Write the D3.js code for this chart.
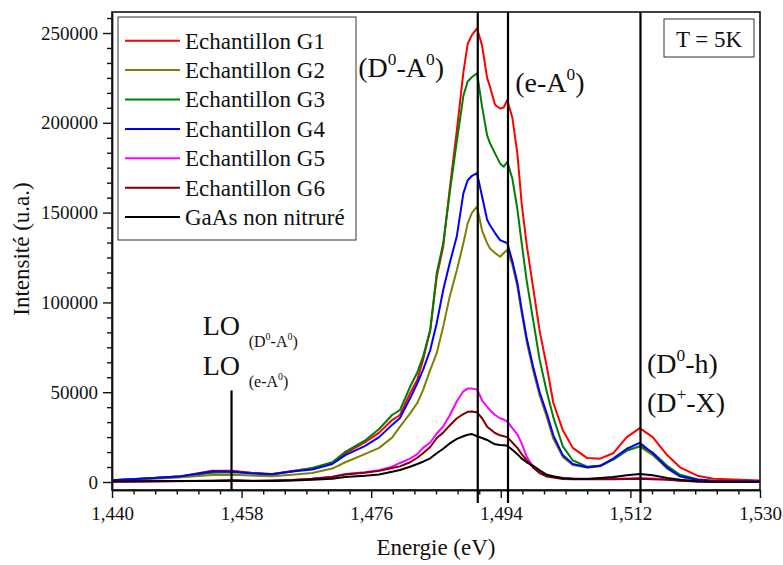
<!DOCTYPE html>
<html>
<head>
<meta charset="utf-8">
<script src="https://cdn.jsdelivr.net/npm/d3@7"></script>
<style>
  body { margin: 0; background: #fff; }
  svg, svg text, svg tspan { font-family: 'Liberation Serif', serif; }
</style>
</head>
<body>
<div id="chart"></div>
<script>
// photon energy (eV)
const energies = [1.4400, 1.4446, 1.4492, 1.4539, 1.4567, 1.4594, 1.4622, 1.4650, 1.4678, 1.4706,
  1.4724, 1.4751, 1.4771, 1.4789, 1.4800, 1.4814, 1.4824, 1.4832, 1.4842, 1.4851,
  1.4860, 1.4869, 1.4879, 1.4888, 1.4894, 1.4900, 1.4907, 1.4914, 1.4921, 1.4925,
  1.4932, 1.4939, 1.4944, 1.4949, 1.4956, 1.4963, 1.4969, 1.4976, 1.4985, 1.4994,
  1.5004, 1.5013, 1.5026, 1.5040, 1.5060, 1.5078, 1.5096, 1.5115, 1.5133, 1.5151,
  1.5171, 1.5189, 1.5213, 1.5235, 1.5272, 1.5300];

// PL intensity (u.a.) for each sample
const g1 = [1000, 2000, 3000, 6300, 6300, 5200, 4500, 6100, 7600, 10400,
  16000, 22000, 27500, 34500, 37300, 49400, 57000, 67900, 84600, 114300,
  131000, 163000, 196000, 228000, 244000, 249000, 252600, 243000, 225000, 220000,
  210000, 208000, 208500, 212700, 203000, 183000, 155000, 132000, 108000, 84000,
  64000, 44000, 29000, 19000, 13300, 13000, 16000, 25000, 30000, 25000,
  15000, 8200, 3500, 1800, 1200, 900];
const g2 = [800, 1500, 2500, 3900, 4000, 3600, 3200, 4000, 5000, 7500,
  11000, 15500, 19000, 24700, 30800, 38200, 44000, 51200, 62400, 71700,
  86500, 103200, 118000, 133000, 144000, 150000, 153300, 140000, 133000, 130000,
  127500, 125400, 127500, 129200, 121000, 109000, 94000, 78000, 62000, 48000,
  36000, 24000, 14000, 9500, 8000, 8800, 12500, 17500, 19700, 15000,
  7500, 3000, 1000, 400, 300, 300];
const g3 = [1000, 2000, 3000, 5200, 5500, 5000, 4200, 5800, 7800, 11000,
  16800, 23000, 29500, 37300, 40100, 53000, 61000, 69800, 84600, 116200,
  132900, 161000, 190000, 215000, 223000, 225500, 227600, 209000, 193000, 188600,
  183000, 177400, 175500, 178300, 169000, 152000, 133000, 112000, 90000, 68000,
  50000, 36000, 20000, 12000, 8500, 9000, 12500, 17500, 20000, 16500,
  9000, 4000, 1500, 700, 500, 500];
const g4 = [1000, 2000, 3000, 5800, 5800, 4800, 4300, 5800, 7000, 10000,
  15000, 20000, 25000, 31800, 35600, 46600, 55000, 62400, 73500, 88400,
  106900, 121800, 137000, 160700, 168000, 170500, 172000, 159000, 146000, 143000,
  138600, 134700, 133800, 133000, 123000, 111000, 96000, 80000, 64000, 50000,
  38000, 26000, 15000, 10000, 8200, 9000, 13000, 18500, 21800, 16000,
  8000, 3200, 1200, 500, 400, 400];
const g5 = [200, 300, 400, 700, 800, 600, 700, 1000, 1800, 3000,
  4500, 5500, 6500, 8500, 10600, 13000, 15500, 19000, 22000, 27000,
  31000, 37000, 45000, 50500, 52000, 52000, 51500, 45500, 41900, 40000,
  37300, 35500, 34800, 33600, 30000, 26500, 21500, 14000, 8500, 5000,
  3500, 2800, 2000, 2000, 1800, 1800, 1900, 2000, 2200, 2000,
  1500, 800, 300, 200, 200, 200];
const g6 = [300, 400, 500, 700, 900, 700, 800, 1100, 1800, 2800,
  4200, 5200, 6200, 7800, 8700, 11000, 13500, 16000, 19500, 24500,
  27500, 31500, 35500, 37800, 39100, 39200, 38800, 35500, 30800, 29500,
  27300, 26000, 25500, 25000, 22000, 19000, 15500, 12000, 8000, 5000,
  3000, 2500, 1700, 1500, 1500, 1500, 1600, 1700, 1800, 1600,
  1200, 700, 300, 200, 200, 200];
const gaas = [300, 400, 500, 600, 800, 600, 500, 800, 1300, 1800,
  2800, 3500, 4200, 5700, 6700, 8500, 10000, 11300, 13200, 16000,
  18500, 21500, 24000, 25500, 26300, 26700, 25500, 24500, 23400, 22500,
  21000, 20600, 20500, 20200, 18000, 15500, 13000, 11000, 9000, 6500,
  4000, 3200, 2200, 1800, 1700, 2200, 2800, 3700, 4500, 3800,
  2300, 1200, 400, 200, 200, 200];

const seriesLabels = ['Echantillon G1', 'Echantillon G2', 'Echantillon G3', 'Echantillon G4',
  'Echantillon G5', 'Echantillon G6', 'GaAs non nitruré'];
const seriesValues = [g1, g2, g3, g4, g5, g6, gaas];
const seriesColors = ['#ff0000', '#808000', '#008000', '#0000ff', '#ff00ff', '#800000', '#000000'];

const xTicks = [1.440, 1.458, 1.476, 1.494, 1.512, 1.530];
const yTicks = [0, 50000, 100000, 150000, 200000, 250000];

// transition energies marked by vertical lines, and how high each line goes
const markerEnergies = [1.4566, 1.4908, 1.4950, 1.5134];
const markerTops = [51000, 261700, 261700, 261700];

const FONT = 'Liberation Serif';

class SpectrumChart {
  constructor(_config) {
    this.config = {
      parentElement: _config.parentElement,
      containerWidth: 783,
      containerHeight: 565,
      margin: { top: 12, right: 23, bottom: 75, left: 112 }
    };
    this.initVis();
  }

  initVis() {
    let vis = this;
    const m = vis.config.margin;
    vis.width = vis.config.containerWidth - m.left - m.right;
    vis.height = vis.config.containerHeight - m.top - m.bottom;

    vis.xScale = d3.scaleLinear().domain([1.44, 1.53]).range([0, vis.width]);
    vis.yScale = d3.scaleLinear().domain([-4450, 261700]).range([vis.height, 0]);

    vis.svg = d3.select(vis.config.parentElement).append('svg')
      .attr('width', vis.config.containerWidth)
      .attr('height', vis.config.containerHeight)
      .style('font-family', FONT);

    vis.chart = vis.svg.append('g')
      .attr('transform', `translate(${m.left},${m.top})`);
  }

  // put the string inside a tspan that carries the font itself
  setText(sel, size, str) {
    sel.attr('font-family', FONT).attr('font-size', size).attr('fill', '#111')
      .style('font-family', FONT);
    sel.each(function (d, i) {
      const s = typeof str === 'function' ? str(d, i) : str;
      d3.select(this).text(null).append('tspan')
        .attr('font-family', FONT).attr('font-size', size)
        .style('font-family', FONT)
        .text(s);
    });
    return sel;
  }

  renderVis() {
    let vis = this;
    const x = vis.xScale, y = vis.yScale;
    const fmtX = d => d3.format('.3f')(d).replace('.', ',');

    // minor ticks (5 between majors)
    const minorX = d3.range(0, 31).map(i => 1.44 + i * 0.003).filter((d, i) => i % 6 !== 0);
    const minorY = d3.range(0, 32).map(i => i * 50000 / 6).filter((d, i) => i % 6 !== 0 && d < 261700);

    vis.chart.append('g').attr('class', 'axis')
      .attr('transform', `translate(0,${vis.height})`)
      .call(d3.axisBottom(x).tickValues(minorX).tickSize(4.5).tickSizeOuter(0).tickFormat(''));
    vis.chart.append('g').attr('class', 'axis')
      .call(d3.axisLeft(y).tickValues(minorY).tickSize(5).tickSizeOuter(0).tickFormat(''));

    const xAxisG = vis.chart.append('g').attr('class', 'axis')
      .attr('transform', `translate(0,${vis.height})`)
      .call(d3.axisBottom(x).tickValues(xTicks).tickSize(8).tickSizeOuter(0).tickPadding(9).tickFormat(fmtX));
    const yAxisG = vis.chart.append('g').attr('class', 'axis')
      .call(d3.axisLeft(y).tickValues(yTicks).tickSize(9).tickSizeOuter(0).tickPadding(5).tickFormat(d3.format('d')));

    vis.svg.selectAll('.axis').attr('font-family', FONT);
    vis.setText(xAxisG.selectAll('text'), 19, d => fmtX(d));
    vis.setText(yAxisG.selectAll('text'), 19, d => d3.format('d')(d));
    vis.svg.selectAll('.axis line, .axis path').attr('stroke', '#111').attr('stroke-width', 1.4);

    // frame
    vis.chart.append('rect')
      .attr('width', vis.width).attr('height', vis.height)
      .attr('fill', 'none').attr('stroke', '#111').attr('stroke-width', 1.6);

    // spectra
    const line = d3.line()
      .x((d, i) => x(energies[i]))
      .y(d => y(d));
    vis.chart.selectAll('.spectrum')
      .data(seriesValues)
      .join('path')
      .attr('class', 'spectrum')
      .attr('fill', 'none')
      .attr('stroke', (d, i) => seriesColors[i])
      .attr('stroke-width', 2)
      .attr('stroke-linejoin', 'round')
      .attr('d', line);

    // vertical markers
    vis.chart.selectAll('.marker')
      .data(markerEnergies)
      .join('line')
      .attr('class', 'marker')
      .attr('x1', d => x(d)).attr('x2', d => x(d))
      .attr('y1', (d, i) => y(markerTops[i]))
      .attr('y2', (d, i) => i === 0 ? vis.height : vis.height + 13)
      .attr('stroke', '#000').attr('stroke-width', 2.2);

    // legend
    const lg = vis.chart.append('g').attr('transform', 'translate(6,5)');
    lg.append('rect').attr('width', 238).attr('height', 223)
      .attr('fill', '#fff').attr('stroke', '#333').attr('stroke-width', 1);
    const rows = lg.selectAll('.lrow').data(seriesLabels).join('g')
      .attr('class', 'lrow')
      .attr('transform', (d, i) => `translate(0,${23.7 + i * 29.4})`);
    rows.append('line').attr('x1', 7).attr('x2', 62)
      .attr('stroke', (d, i) => seriesColors[i]).attr('stroke-width', 2);
    vis.setText(rows.append('text'), 23, d => d).attr('x', 67).attr('dy', '0.34em');

    // temperature box
    const tb = vis.chart.append('g').attr('transform', `translate(${vis.width - 96},7)`);
    tb.append('rect').attr('width', 90).attr('height', 38)
      .attr('fill', '#fff').attr('stroke', '#333').attr('stroke-width', 1);
    vis.setText(tb.append('text'), 23, 'T = 5K')
      .attr('x', 45).attr('y', 28).attr('text-anchor', 'middle');

    // labels with superscripts
    const rich = (px, py, parts, size) => {
      const t = vis.chart.append('text').attr('x', px).attr('y', py)
        .attr('font-family', FONT).attr('font-size', size).attr('fill', '#111');
      let raised = false;
      parts.forEach(p => {
        const sup = p.startsWith('^');
        const s = t.append('tspan').attr('font-family', FONT).style('font-family', FONT)
          .text(sup ? p.slice(1) : p);
        if (sup) {
          s.attr('font-size', size * 0.62).attr('dy', -size * 0.42);
          raised = true;
        } else {
          s.attr('font-size', size);
          if (raised) { s.attr('dy', size * 0.42); raised = false; }
        }
      });
      return t;
    };

    rich(x(1.4742), y(225500), ['(D', '^0', '-A', '^0', ')'], 28);
    rich(x(1.4960), y(217200), ['(e-A', '^0', ')'], 28);
    rich(x(1.5143), y(60700), ['(D', '^0', '-h)'], 28);
    rich(x(1.5143), y(39000), ['(D', '^+', '-X)'], 28);

    rich(x(1.4526), y(81800), ['LO'], 28);
    rich(x(1.4526) + 46, y(81800) + 12, ['(D', '^0', '-A', '^0', ')'], 16);
    rich(x(1.4526), y(59600), ['LO'], 28);
    rich(x(1.4526) + 46, y(59600) + 12, ['(e-A', '^0', ')'], 16);

    // axis titles
    vis.setText(vis.chart.append('text'), 23, 'Energie (eV)')
      .attr('x', vis.width / 2).attr('y', vis.height + 65)
      .attr('text-anchor', 'middle');
    vis.setText(vis.chart.append('text'), 23, 'Intensité (u.a.)')
      .attr('transform', `translate(${-83},${237}) rotate(-90)`)
      .attr('text-anchor', 'middle');
  }
}

const chart = new SpectrumChart({ parentElement: '#chart' });
chart.renderVis();
</script>
</body>
</html>
